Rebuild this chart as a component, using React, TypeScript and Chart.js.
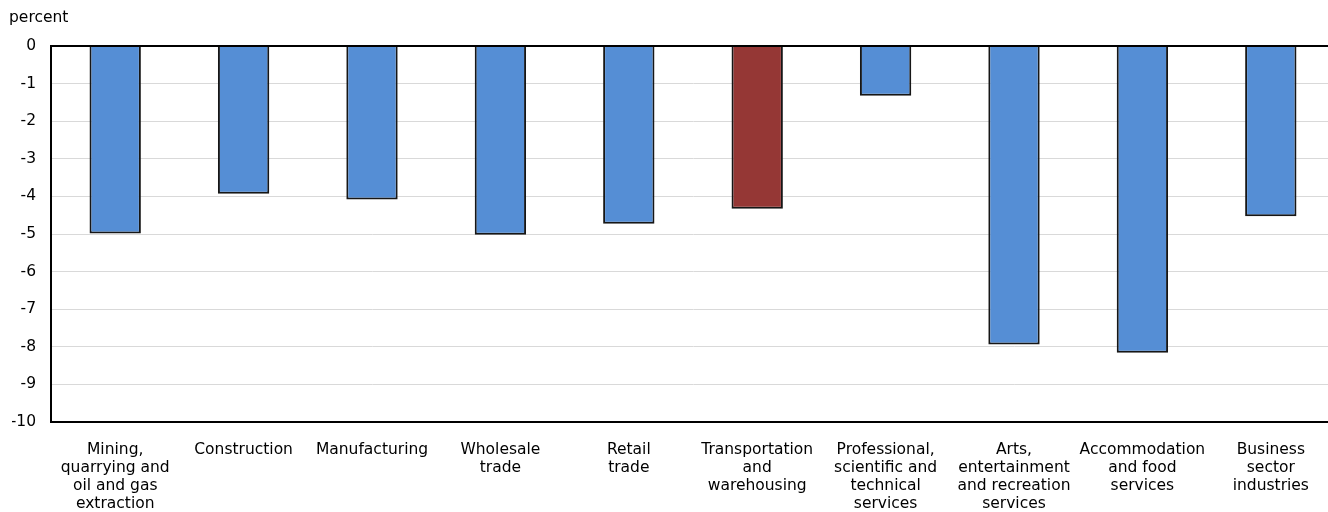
import React, { useEffect, useRef } from "react";
import { Chart, registerables } from "chart.js";

Chart.register(...registerables);

// Industry names, split into the lines shown under each bar
const industries: string[][] = [
  ["Mining,", "quarrying and", "oil and gas", "extraction"],
  ["Construction"],
  ["Manufacturing"],
  ["Wholesale", "trade"],
  ["Retail", "trade"],
  ["Transportation", "and", "warehousing"],
  ["Professional,", "scientific and", "technical", "services"],
  ["Arts,", "entertainment", "and recreation", "services"],
  ["Accommodation", "and food", "services"],
  ["Business", "sector", "industries"],
];

// Percent change by industry
const changePercent: number[] = [-4.99, -3.93, -4.08, -5.02, -4.73, -4.33, -1.32, -7.94, -8.16, -4.53];

// The industry drawn in the accent colour
const highlighted = "Transportation";

const yMin = -10;
const yMax = 0;
const yStep = 1;
const unitLabel = "percent";

const FONT = "'DejaVu Sans', Verdana, sans-serif";
const FONT_SIZE = 15.5;
const BLUE = "#558ED5";
const RED = "#953735";

const unitLabelPlugin = {
  id: "unitLabel",
  afterDraw(chart: Chart) {
    const ctx = chart.ctx;
    ctx.save();
    ctx.font = `${FONT_SIZE}px ${FONT}`;
    ctx.fillStyle = "#000";
    ctx.textAlign = "left";
    ctx.textBaseline = "middle";
    ctx.fillText(unitLabel, 9, 18);
    ctx.restore();
  },
};

export default function App() {
  const canvasRef = useRef<HTMLCanvasElement | null>(null);

  useEffect(() => {
    const canvas = canvasRef.current;
    if (!canvas) return;
    const colors = industries.map((lines) => (lines[0] === highlighted ? RED : BLUE));
    const chart = new Chart(canvas, {
      type: "bar",
      data: {
        labels: industries,
        datasets: [
          {
            data: changePercent,
            backgroundColor: colors,
            borderColor: "#161616",
            borderWidth: 2,
            categoryPercentage: 1,
            barPercentage: 0.4,
          },
        ],
      },
      options: {
        responsive: false,
        animation: false,
        devicePixelRatio: 1,
        layout: { padding: { left: 12, top: 46, right: 0, bottom: 0 } },
        plugins: {
          legend: { display: false },
          tooltip: { enabled: false },
          title: { display: false },
        },
        scales: {
          x: {
            offset: true,
            grid: { display: false, drawTicks: false, tickLength: 0 },
            border: { display: true, color: "#000", width: 2 },
            ticks: {
              color: "#000",
              font: { family: FONT, size: FONT_SIZE, lineHeight: 18 / FONT_SIZE },
              maxRotation: 0,
              minRotation: 0,
              autoSkip: false,
              padding: 19,
            },
            afterFit: (scale: any) => {
              scale.height = 90;
            },
          },
          y: {
            min: yMin,
            max: yMax,
            grid: {
              drawTicks: false,
              tickLength: 0,
              color: (c: any) => (c.tick && c.tick.value === 0 ? "#000" : "#d9d9d9"),
              lineWidth: (c: any) => (c.tick && c.tick.value === 0 ? 2 : 1),
            },
            border: { display: true, color: "#000", width: 2 },
            ticks: {
              stepSize: yStep,
              color: "#000",
              font: { family: FONT, size: FONT_SIZE },
              padding: 15,
            },
            afterFit: (scale: any) => {
              scale.width = 39;
            },
          },
        },
      },
      plugins: [unitLabelPlugin],
    });
    return () => chart.destroy();
  }, []);

  return (
    <div
      style={{
        position: "fixed",
        left: 0,
        top: 0,
        width: 1328,
        height: 512,
        overflow: "hidden",
        background: "#fff",
      }}
    >
      <canvas ref={canvasRef} width={1335} height={512} style={{ display: "block" }} />
    </div>
  );
}
